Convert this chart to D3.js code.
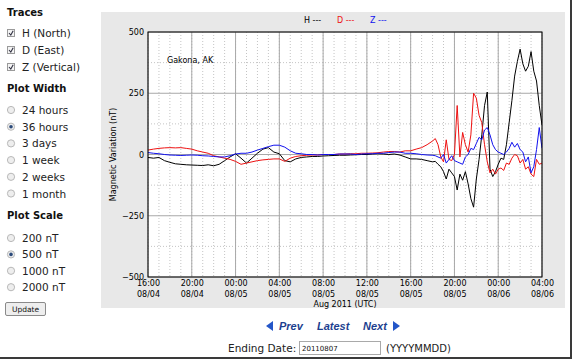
<!DOCTYPE html>
<html>
<head>
<meta charset="utf-8">
<script src="https://cdn.jsdelivr.net/npm/d3@7"></script>
<style>
body { margin: 0; background: #fff; overflow: hidden; }
svg { display: block; }
</style>
</head>
<body>
<div id="graphDiv"></div>
<script>
// magnetometer traces, Gakona AK, 36 hours ending 08/06 04:00 UTC
// sampled every 30 min up to 18:00 08/05, then every 15 min
var startTime = Date.UTC(2011, 7, 4, 16);
var hours = d3.range(0, 26, 0.5).concat(d3.range(26, 36.001, 0.25));

var hNorth = [-12, -15, -12, -25, -32, -38, -40, -42, -43, -44, -45, -42, -46, -40, -25, -10, 3, -15, -35, -15,
  5, 22, 28, 10, 3, -25, -30, -18, -12, -10, -8, -8, -6, -5, -4, -3, -3, -2, -1, 0,
  0, 2, 3, 2, 0, 2, -2, -10, -18, -18, -20, -25,
  -30, -28, -40, -50, -70, -100, -60, -75, -90, -145, -80, -105, -70, -120, -180, -215, -100, -20, 80, 200,
  255, -60, -90, -70, -40, -15, -20, 40, 130, 220, 320, 380, 430, 370, 340, 360, 420, 340, 300, 200, 120];

var dEast = [18, 22, 25, 27, 28, 27, 28, 25, 22, 15, 10, 5, -5, -10, -15, -20, -28, -40, -35, -30,
  -25, -22, -20, -18, -18, -28, -15, -8, -5, -3, -2, -2, 0, 0, 0, 2, 2, 3, 3, 5,
  5, 6, 7, 10, 12, 12, 10, 15, 15, 22, 28, 40,
  55, 65, 40, -10, -30, 60, -20, -25, 0, 200, -10, 90, 40, 10, 80, 250, 230, 160, 130, 40,
  -30, -75, -60, -80, -60, -55, -65, -35, -40, -15, 0, -5, -35, -20, -60, -50, -80, -90, -20, -40, -35];

var zVert = [8, 5, 3, 0, -2, -3, -4, -3, -2, -3, -5, -6, -8, -10, -10, -5, 2, 5, 5, 10,
  18, 25, 32, 38, 38, 30, 15, 5, 3, 0, 0, -2, 0, 0, 0, 2, 2, 2, 0, 2,
  3, 3, 5, 5, 8, 10, 10, 5, 5, 3, 0, -2,
  -3, -5, -10, -15, 0, -35, -20, -5, -25, -30, -35, -40, -10, 0, 25, 20, 45, 70, 60, 100,
  110, 80, 40, 20, 10, 5, 0, 10, 25, 50, 30, 45, 20, 10, -30, -10, -75, -50, 20, 110, 25];

var yTicks = [-500, -250, 0, 250, 500];
var yMinor = [-375, -125, 125, 375];

// form controls on the left
var traceLabels = ["H (North)", "D (East)", "Z (Vertical)"];
var widthLabels = ["24 hours", "36 hours", "3 days", "1 week", "2 weeks", "1 month"];
var scaleLabels = ["200 nT", "500 nT", "1000 nT", "2000 nT"];
var widthChecked = 1, scaleChecked = 1;

var series = [
  {name: "H", color: "#000000", values: hNorth},
  {name: "D", color: "#ee1111", values: dEast},
  {name: "Z", color: "#1111ee", values: zVert}
];

var sans = "'DejaVu Sans', sans-serif";

var margin = {top: 32, left: 148},
    innerWidth = 394,
    innerHeight = 245;

var svg = d3.select("#graphDiv")
    .append("svg")
    .attr("width", 574)
    .attr("height", 363)
    .style("font-family", sans);

// screenshot shadow edges
svg.append("rect").attr("x", 570).attr("y", 0).attr("width", 2).attr("height", 359).attr("fill", "#3a3a3a");
svg.append("rect").attr("x", 0).attr("y", 357).attr("width", 572).attr("height", 2).attr("fill", "#3a3a3a");

// gray figure background
svg.append("rect").attr("x", 101).attr("y", 12).attr("width", 464).attr("height", 296).attr("fill", "#e8e8e8");

var g = svg.append("g")
    .attr("transform", "translate(" + margin.left + "," + margin.top + ")");

g.append("rect").attr("width", innerWidth).attr("height", innerHeight).attr("fill", "#fff");

var x = d3.scaleUtc()
    .domain([new Date(startTime), new Date(startTime + 36 * 3600e3)])
    .range([0, innerWidth]);

var y = d3.scaleLinear()
    .domain([-500, 500])
    .range([innerHeight, 0]);

// dotted minor grid, every hour and every 125 nT
g.append("g").selectAll("line")
    .data(x.ticks(d3.utcHour.every(1)))
    .enter().append("line")
    .attr("x1", function(d) { return x(d); }).attr("x2", function(d) { return x(d); })
    .attr("y1", 0).attr("y2", innerHeight)
    .attr("stroke", "#c4c4c4").attr("stroke-dasharray", "1,2");

g.append("g").selectAll("line")
    .data(yMinor)
    .enter().append("line")
    .attr("x1", 0).attr("x2", innerWidth)
    .attr("y1", function(d) { return y(d); }).attr("y2", function(d) { return y(d); })
    .attr("stroke", "#c4c4c4").attr("stroke-dasharray", "1,2");

// solid major grid
var majorX = x.ticks(d3.utcHour.every(4));
g.append("g").selectAll("line")
    .data(majorX)
    .enter().append("line")
    .attr("x1", function(d) { return x(d); }).attr("x2", function(d) { return x(d); })
    .attr("y1", 0).attr("y2", innerHeight)
    .attr("stroke", "#a8a8a8");

g.append("g").selectAll("line")
    .data(yTicks)
    .enter().append("line")
    .attr("x1", 0).attr("x2", innerWidth)
    .attr("y1", function(d) { return y(d); }).attr("y2", function(d) { return y(d); })
    .attr("stroke", "#a8a8a8");

// traces
g.append("clipPath").attr("id", "clip")
    .append("rect").attr("width", innerWidth).attr("height", innerHeight);

var line = d3.line()
    .x(function(d, i) { return x(new Date(startTime + hours[i] * 3600e3)); })
    .y(function(d) { return y(d); });

g.append("g").attr("clip-path", "url(#clip)")
    .selectAll("path")
    .data(series)
    .enter().append("path")
    .attr("d", function(s) { return line(s.values); })
    .attr("fill", "none")
    .attr("stroke", function(s) { return s.color; })
    .attr("stroke-width", 1);

// plot frame
g.append("rect").attr("width", innerWidth).attr("height", innerHeight)
    .attr("fill", "none").attr("stroke", "#000");

// axes
var fmtTime = d3.utcFormat("%H:%M"), fmtDay = d3.utcFormat("%m/%d");

var xAxis = g.append("g")
    .attr("font-family", sans).attr("font-size", 8)
    .attr("transform", "translate(0," + innerHeight + ")")
    .call(d3.axisBottom(x).tickValues(majorX).tickSize(0).tickPadding(3));
xAxis.attr("font-family", sans).attr("font-size", 8);
xAxis.select(".domain").remove();
xAxis.selectAll(".tick text")
    .attr("fill", "#000")
    .each(function(d) {
      var t = d3.select(this).text(null);
      t.append("tspan").attr("x", 0).attr("dy", "0.71em").text(fmtTime(d));
      t.append("tspan").attr("x", 0).attr("dy", "1.4em").text(fmtDay(d));
    });

var yAxis = g.append("g")
    .call(d3.axisLeft(y).tickValues(yTicks).tickSize(0).tickPadding(4));
yAxis.attr("font-family", sans).attr("font-size", 8);
yAxis.select(".domain").remove();
yAxis.selectAll(".tick text").attr("fill", "#000");

svg.append("text")
    .attr("transform", "translate(116," + (margin.top + innerHeight / 2) + ")rotate(-90)")
    .attr("text-anchor", "middle").attr("font-size", 8)
    .text("Magnetic Variation (nT)");

svg.append("text")
    .attr("x", margin.left + innerWidth / 2).attr("y", 307)
    .attr("text-anchor", "middle").attr("font-size", 8)
    .text("Aug 2011 (UTC)");

svg.append("text").attr("x", 167).attr("y", 63).attr("font-size", 8).text("Gakona, AK");

// legend
svg.selectAll(".legend")
    .data(series)
    .enter().append("text")
    .attr("x", function(d, i) { return 304 + i * 33; })
    .attr("y", 23)
    .attr("font-size", 8)
    .attr("fill", function(d) { return d.color; })
    .text(function(d) { return d.name + " ---"; });

// left panel
var side = svg.append("g");

function heading(txt, yy) {
  side.append("text").attr("x", 7).attr("y", yy).attr("font-size", 10)
      .attr("font-weight", "bold").attr("fill", "#111").text(txt);
}

heading("Traces", 16);
traceLabels.forEach(function(lbl, i) {
  var cy = 33 + i * 17;
  side.append("rect").attr("x", 7.5).attr("y", cy - 3.5).attr("width", 7).attr("height", 7)
      .attr("fill", "#f4f4f4").attr("stroke", "#9a9a9a");
  side.append("path").attr("d", "M9," + cy + " L10.8," + (cy + 2) + " L13.2," + (cy - 2.3))
      .attr("fill", "none").attr("stroke", "#334").attr("stroke-width", 1.1);
  side.append("text").attr("x", 22).attr("y", cy + 4).attr("font-size", 10.5).attr("fill", "#222").text(lbl);
});

function radios(labels, y0, step, checked) {
  labels.forEach(function(lbl, i) {
    var cy = y0 + i * step;
    side.append("circle").attr("cx", 11).attr("cy", cy).attr("r", 3.6)
        .attr("fill", "#eeeeee").attr("stroke", "#b8b8b8");
    if (i === checked) {
      side.append("circle").attr("cx", 11).attr("cy", cy).attr("r", 1.8).attr("fill", "#2b4a7a");
    }
    side.append("text").attr("x", 22).attr("y", cy + 4).attr("font-size", 10.5).attr("fill", "#222").text(lbl);
  });
}

heading("Plot Width", 92);
radios(widthLabels, 110, 16.7, widthChecked);
heading("Plot Scale", 219);
radios(scaleLabels, 238, 16.4, scaleChecked);

side.append("rect").attr("x", 5.5).attr("y", 302.5).attr("width", 40).attr("height", 13).attr("rx", 1.5)
    .attr("fill", "#eeeeee").attr("stroke", "#8a8a8a");
side.append("text").attr("x", 25.5).attr("y", 312).attr("text-anchor", "middle")
    .attr("font-size", 7.5).attr("fill", "#111").text("Update");

// navigation under the chart
var nav = svg.append("g")
    .style("font-family", "'Liberation Sans', Arial, sans-serif")
    .attr("font-weight", "bold").attr("font-style", "italic").attr("font-size", 11)
    .attr("fill", "#1d3f8f");
nav.append("path").attr("d", "M266,326 L273,321 L273,331 Z").attr("fill", "#2456c8");
nav.append("text").attr("x", 279).attr("y", 330).text("Prev");
nav.append("text").attr("x", 317).attr("y", 330).text("Latest");
nav.append("text").attr("x", 363).attr("y", 330).text("Next");
nav.append("path").attr("d", "M400,326 L393,321 L393,331 Z").attr("fill", "#2456c8");

svg.append("text").attr("x", 228).attr("y", 352).attr("font-size", 10.5).attr("fill", "#222").text("Ending Date:");
svg.append("rect").attr("x", 299.5).attr("y", 341.5).attr("width", 81).attr("height", 13)
    .attr("fill", "#fff").attr("stroke", "#a9a9a9");
svg.append("text").attr("x", 302).attr("y", 351).attr("font-size", 7).attr("fill", "#111").text("20110807");
svg.append("text").attr("x", 386).attr("y", 352).attr("font-size", 10).attr("fill", "#222").text("(YYYYMMDD)");
</script>
</body>
</html>
